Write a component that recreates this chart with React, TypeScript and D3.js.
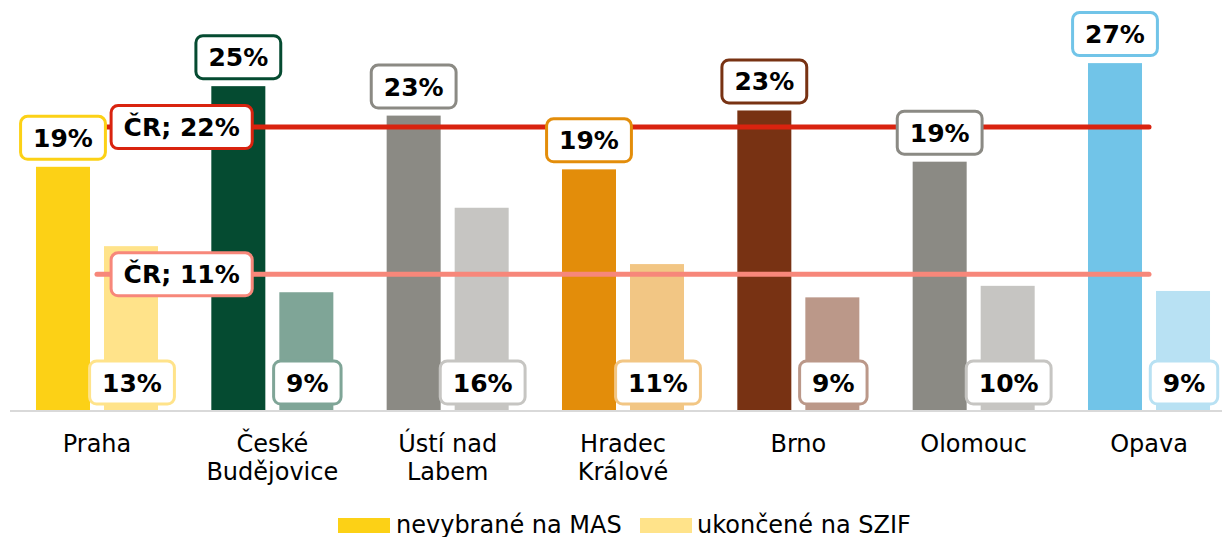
import React from 'react';
import * as d3 from 'd3';

// regions (label lines)
const categories = [
  ['Praha'],
  ['České', 'Budějovice'],
  ['Ústí nad', 'Labem'],
  ['Hradec', 'Králové'],
  ['Brno'],
  ['Olomouc'],
  ['Opava'],
];
const seriesNames = ['nevybrané na MAS', 'ukončené na SZIF'];
const nevybrane = [19.0, 25.3, 23.0, 18.8, 23.4, 19.4, 27.1];
const ukoncene = [12.8, 9.2, 15.8, 11.4, 8.8, 9.7, 9.3];
const crNevybrane = 22.1;
const crUkoncene = 10.6;

const darkColors = ['#FCD116', '#054B31', '#8B8A84', '#E38D0A', '#783213', '#8B8A84', '#71C4E8'];
const lightColors = ['#FFE38A', '#7FA597', '#C6C5C2', '#F2C684', '#BB9889', '#C6C5C2', '#B8E1F3'];
const crColors = ['#D9230F', '#F7877A'];

const W = 1224;
const H = 537;
const FONT = '"DejaVu Sans", Verdana, sans-serif';

let ctx: CanvasRenderingContext2D | null = null;
function textWidth(t: string, font: string) {
  if (!ctx) ctx = document.createElement('canvas').getContext('2d');
  if (!ctx) return t.length * 14;
  ctx.font = font;
  return ctx.measureText(t).width;
}

const pct = (v: number) => `${Math.round(v)}%`;

function Label({ cx, cy, text, stroke }: { cx: number; cy: number; text: string; stroke: string }) {
  const w = textWidth(text, `bold 25px ${FONT}`) + 25;
  const h = 43;
  return (
    <g>
      <rect x={cx - w / 2} y={cy - h / 2} width={w} height={h} rx={7} fill="#fff" stroke={stroke} strokeWidth={3} />
      <text x={cx} y={cy + 9} textAnchor="middle" fontFamily={FONT} fontWeight="bold" fontSize={25} fill="#000">
        {text}
      </text>
    </g>
  );
}

export default function App() {
  const idx = categories.map((_, i) => String(i));
  const x = d3.scaleBand<string>().domain(idx).range([9.33, 1236.67]).padding(0);
  const sub = d3.scaleBand<string>().domain(['a', 'b']).range([0, x.bandwidth()])
    .paddingInner(14 / 68).paddingOuter(0.392);
  const y = d3.scaleLinear().domain([0, 30]).range([410, 410 - 30 * 12.8]);
  const bw = sub.bandwidth();
  const center = (i: number) => (x(String(i)) ?? 0) + x.bandwidth() / 2;
  const x1 = center(0);
  const x2 = center(categories.length - 1);

  return (
    <div style={{ position: 'absolute', left: 0, top: 0 }}>
      <svg width={W} height={H} style={{ display: 'block' }}>
        <rect width={W} height={H} fill="#fff" />
        {/* bars */}
        {nevybrane.map((v, i) => (
          <rect key={'a' + i} x={(x(String(i)) ?? 0) + (sub('a') ?? 0)} y={y(v)} width={bw} height={y(0) - y(v)} fill={darkColors[i]} />
        ))}
        {ukoncene.map((v, i) => (
          <rect key={'b' + i} x={(x(String(i)) ?? 0) + (sub('b') ?? 0)} y={y(v)} width={bw} height={y(0) - y(v)} fill={lightColors[i]} />
        ))}
        {/* axis line */}
        <line x1={10} x2={1222} y1={411} y2={411} stroke="#D9D9D9" strokeWidth={2} />
        {/* CR averages */}
        {[crNevybrane, crUkoncene].map((v, k) => (
          <line key={'cr' + k} x1={x1} x2={x2} y1={y(v)} y2={y(v)} stroke={crColors[k]} strokeWidth={5} strokeLinecap="round" />
        ))}
        {[crNevybrane, crUkoncene].map((v, k) => (
          <Label key={'crl' + k} cx={x1 + x.bandwidth() / 2 - 3} cy={y(v)} text={`ČR; ${pct(v)}`} stroke={crColors[k]} />
        ))}
        {/* value labels */}
        {ukoncene.map((v, i) => (
          <Label key={'lb' + i} cx={(x(String(i)) ?? 0) + (sub('b') ?? 0) + bw / 2 + 1} cy={382.5} text={pct(v)} stroke={lightColors[i]} />
        ))}
        {nevybrane.map((v, i) => (
          <Label key={'la' + i} cx={(x(String(i)) ?? 0) + (sub('a') ?? 0) + bw / 2} cy={y(v) - 29} text={pct(v)} stroke={darkColors[i]} />
        ))}
        {/* category labels */}
        {categories.map((lines, i) => (
          <text key={'c' + i} x={center(i)} y={452} textAnchor="middle" fontFamily={FONT} fontSize={24} fill="#000">
            {lines.map((t, j) => (
              <tspan key={j} x={center(i)} dy={j === 0 ? 0 : 28}>{t}</tspan>
            ))}
          </text>
        ))}
        {/* legend */}
        <g>
          <rect x={338} y={518} width={52} height={15} fill={darkColors[0]} />
          <text x={396} y={533} fontFamily={FONT} fontSize={24} fill="#000">{seriesNames[0]}</text>
          <rect x={640} y={518} width={52} height={15} fill={lightColors[0]} />
          <text x={697} y={533} fontFamily={FONT} fontSize={24} fill="#000">{seriesNames[1]}</text>
        </g>
      </svg>
    </div>
  );
}
